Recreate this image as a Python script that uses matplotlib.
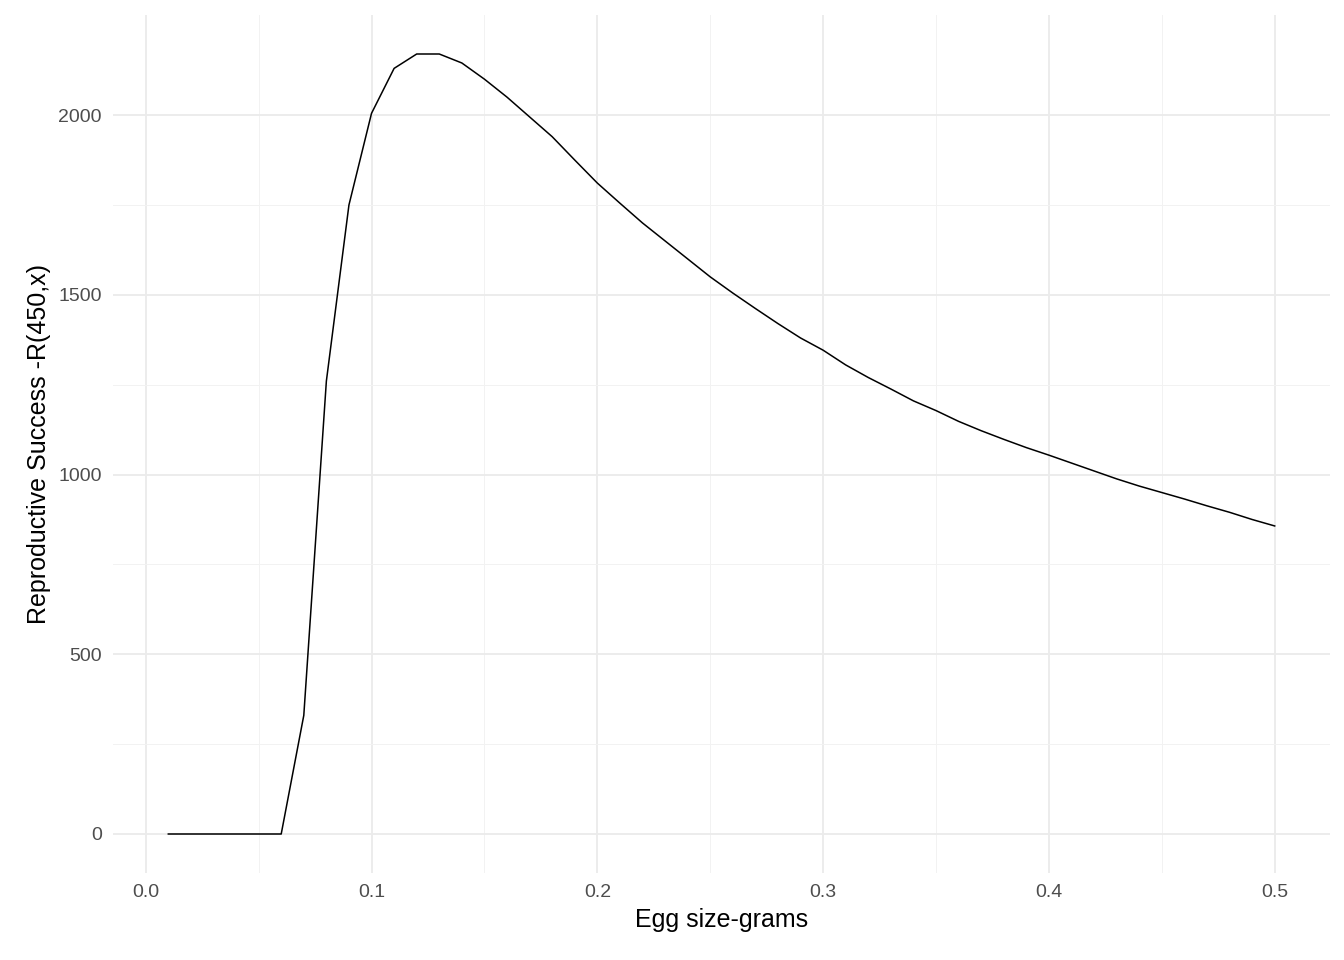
import matplotlib
matplotlib.use("Agg")
import matplotlib.pyplot as plt
import numpy as np

plt.rcParams["font.family"] = ["Liberation Sans", "DejaVu Sans"]

egg_size = np.round(np.arange(1, 51) * 0.01, 2)
success = [0, 0, 0, 0, 0, 0, 330, 1260, 1750, 2005,
           2130, 2170, 2170, 2145, 2100, 2050, 1995, 1940, 1875, 1811,
           1755, 1700, 1650, 1600, 1550, 1505, 1462, 1420, 1380, 1346,
           1305, 1270, 1238, 1205, 1178, 1148, 1122, 1098, 1075, 1054,
           1032, 1010, 988, 968, 950, 932, 913, 895, 875, 857]

fig = plt.figure(figsize=(13.44, 9.6), dpi=100)
ax = fig.add_axes([113 / 1344, 87 / 960, 1217 / 1344, 858 / 960])

ax.plot(egg_size, success, color="black", linewidth=1.1)

ax.set_xlim(-0.0145, 0.5245)
ax.set_ylim(-108.5, 2278.5)
ax.set_xticks([0.0, 0.1, 0.2, 0.3, 0.4, 0.5])
ax.set_xticklabels(["0.0", "0.1", "0.2", "0.3", "0.4", "0.5"])
ax.set_yticks([0, 500, 1000, 1500, 2000])
ax.set_xticks([0.05, 0.15, 0.25, 0.35, 0.45], minor=True)
ax.set_yticks([250, 750, 1250, 1750], minor=True)

ax.grid(which="major", color="#ebebeb", linewidth=1.3)
ax.grid(which="minor", color="#f2f2f2", linewidth=0.7)
ax.set_axisbelow(True)
for s in ax.spines.values():
    s.set_visible(False)
ax.tick_params(which="both", length=0, labelsize=14, labelcolor="#4d4d4d", pad=8)

ax.set_xlabel("Egg size-grams", fontsize=18, labelpad=5)
ax.set_ylabel("Reproductive Success -R(450,x)", fontsize=18, labelpad=5)

fig.savefig("out.png", dpi=100)
